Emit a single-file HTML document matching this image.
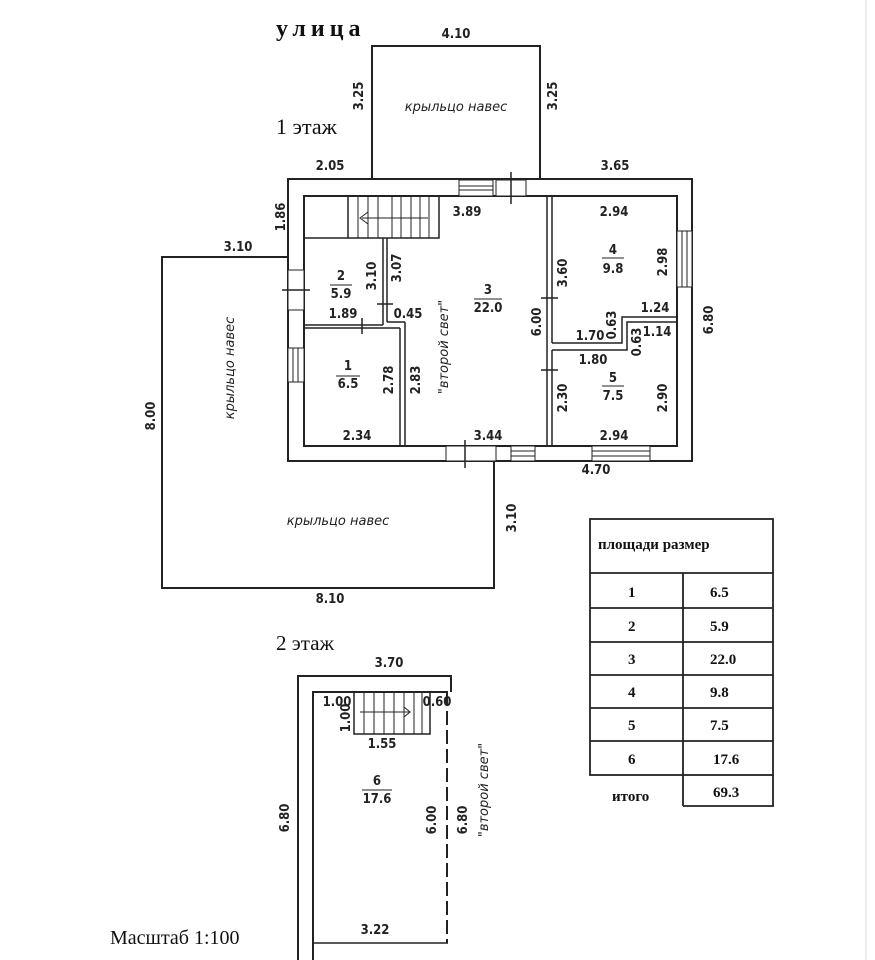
<!DOCTYPE html>
<html><head><meta charset="utf-8"><style>
html,body{margin:0;padding:0;background:#fff;width:875px;height:960px;overflow:hidden}
svg{display:block}
.d{font-family:"DejaVu Sans Condensed","DejaVu Sans",sans-serif;font-size:13px;font-weight:bold;fill:#222}
.s{font-family:"Liberation Serif",serif;fill:#111}
.i{font-family:"DejaVu Sans",sans-serif;font-style:italic;font-size:13px;fill:#222}
</style></head><body>
<svg width="875" height="960" viewBox="0 0 875 960" xmlns="http://www.w3.org/2000/svg">
<rect x="0" y="0" width="875" height="960" fill="#fff"/>
<line x1="866" y1="0" x2="866" y2="960" stroke="#ddd" stroke-width="1"/>
<g fill="none" stroke="#222" stroke-width="2">
<polyline points="372,178 372,46 540,46 540,178"/>
<polyline points="288,257 162,257 162,588 494,588 494,461"/>
<rect x="288" y="179" width="404" height="282"/>
<rect x="304" y="196" width="373" height="250"/>
<rect x="348" y="196" width="91" height="42" stroke-width="1.5"/>
<line x1="304" y1="238" x2="348" y2="238" stroke-width="1.5"/>
<line x1="383" y1="238" x2="383" y2="325" stroke-width="1.5"/>
<line x1="387" y1="238" x2="387" y2="322" stroke-width="1.5"/>
<line x1="304" y1="325" x2="383" y2="325" stroke-width="1.5"/>
<line x1="304" y1="328" x2="400" y2="328" stroke-width="1.5"/>
<line x1="387" y1="322" x2="405" y2="322" stroke-width="1.5"/>
<line x1="400" y1="328" x2="400" y2="446" stroke-width="1.5"/>
<line x1="405" y1="322" x2="405" y2="446" stroke-width="1.5"/>
<line x1="547" y1="196" x2="547" y2="446" stroke-width="1.5"/>
<line x1="552" y1="196" x2="552" y2="343" stroke-width="1.5"/>
<line x1="552" y1="350" x2="552" y2="446" stroke-width="1.5"/>
<polyline points="552,343 622,343 622,317 677,317" stroke-width="1.5"/>
<polyline points="552,350 627,350 627,322 677,322" stroke-width="1.5"/>
<polyline points="298,960 298,676 451,676 451,692"/>
<polyline points="313,960 313,692 448,692"/>
<line x1="313" y1="943" x2="448" y2="943" stroke-width="1.5"/>
<line x1="447" y1="692" x2="447" y2="943" stroke-width="2" stroke-dasharray="14,5"/>
<rect x="354" y="692" width="76" height="42" stroke-width="1.5"/>
<rect x="590" y="519" width="183" height="256" stroke-width="1.8"/>
<line x1="683" y1="573" x2="683" y2="806" stroke-width="1.8"/>
<polyline points="683,806 773,806 773,775" stroke-width="1.8"/>
<g stroke-width="1.8"><line x1="590" y1="573" x2="773" y2="573"/><line x1="590" y1="608" x2="773" y2="608"/><line x1="590" y1="642" x2="773" y2="642"/><line x1="590" y1="675" x2="773" y2="675"/><line x1="590" y1="708" x2="773" y2="708"/><line x1="590" y1="741" x2="773" y2="741"/></g>
</g>
<g stroke="#222" stroke-width="1">
<line x1="358" y1="196" x2="358" y2="238"/><line x1="368" y1="196" x2="368" y2="238"/><line x1="378" y1="196" x2="378" y2="238"/><line x1="392" y1="196" x2="392" y2="238"/><line x1="401" y1="196" x2="401" y2="238"/><line x1="411" y1="196" x2="411" y2="238"/><line x1="420" y1="196" x2="420" y2="238"/><line x1="429" y1="196" x2="429" y2="238"/>
<line x1="362" y1="218" x2="428" y2="218"/><polyline points="368,212 360,218 368,224" fill="none"/>
<line x1="364" y1="692" x2="364" y2="734"/><line x1="374" y1="692" x2="374" y2="734"/><line x1="384" y1="692" x2="384" y2="734"/><line x1="394" y1="692" x2="394" y2="734"/><line x1="404" y1="692" x2="404" y2="734"/><line x1="414" y1="692" x2="414" y2="734"/><line x1="422" y1="692" x2="422" y2="734"/>
<line x1="360" y1="712" x2="410" y2="712"/><polyline points="404,707 410,712 404,717" fill="none"/>
<rect x="459" y="180" width="34" height="16" fill="#fff"/><line x1="459" y1="186" x2="493" y2="186"/><line x1="459" y1="190" x2="493" y2="190"/>
<rect x="677" y="231" width="15" height="56" fill="#fff"/><line x1="682" y1="231" x2="682" y2="287"/><line x1="687" y1="231" x2="687" y2="287"/>
<rect x="288" y="348" width="16" height="34" fill="#fff"/><line x1="293" y1="348" x2="293" y2="382"/><line x1="298" y1="348" x2="298" y2="382"/>
<rect x="511" y="446" width="24" height="15" fill="#fff"/><line x1="511" y1="451" x2="535" y2="451"/><line x1="511" y1="456" x2="535" y2="456"/>
<rect x="592" y="446" width="58" height="15" fill="#fff"/><line x1="592" y1="451" x2="650" y2="451"/><line x1="592" y1="456" x2="650" y2="456"/>
<rect x="496" y="180" width="30" height="16" fill="#fff"/><line x1="511" y1="172" x2="511" y2="204" stroke-width="1.5"/>
<rect x="288" y="270" width="16" height="40" fill="#fff"/><line x1="282" y1="290" x2="310" y2="290" stroke-width="1.5"/>
<rect x="446" y="446" width="50" height="15" fill="#fff"/><line x1="465" y1="440" x2="465" y2="468" stroke-width="1.5"/>
<line x1="377" y1="304" x2="393" y2="304" stroke-width="1.5"/><line x1="362" y1="318" x2="362" y2="334" stroke-width="1.5"/>
<line x1="541" y1="298" x2="558" y2="298" stroke-width="1.5"/><line x1="541" y1="370" x2="558" y2="370" stroke-width="1.5"/>
<line x1="330" y1="285" x2="352" y2="285"/><line x1="474" y1="299" x2="502" y2="299"/><line x1="602" y1="258" x2="624" y2="258"/><line x1="602" y1="386" x2="624" y2="386"/><line x1="336" y1="376" x2="360" y2="376"/><line x1="362" y1="790" x2="392" y2="790"/>
</g>
<g class="d" text-anchor="middle">
<text x="456" y="38">4.10</text><text x="330" y="170">2.05</text><text x="615" y="170">3.65</text>
<text x="467" y="216">3.89</text><text x="614" y="216">2.94</text>
<text x="238" y="251">3.10</text>
<text x="341" y="280">2</text><text x="341" y="298">5.9</text>
<text x="488" y="294">3</text><text x="488" y="312">22.0</text>
<text x="613" y="254">4</text><text x="613" y="273">9.8</text>
<text x="343" y="318">1.89</text><text x="408" y="318">0.45</text>
<text x="655" y="312">1.24</text><text x="590" y="340">1.70</text><text x="657" y="336">1.14</text>
<text x="593" y="364">1.80</text>
<text x="613" y="382">5</text><text x="613" y="400">7.5</text>
<text x="348" y="370">1</text><text x="348" y="388">6.5</text>
<text x="357" y="440">2.34</text><text x="488" y="440">3.44</text><text x="614" y="440">2.94</text>
<text x="596" y="474">4.70</text><text x="330" y="603">8.10</text>
<text x="389" y="667">3.70</text>
<text x="337" y="706">1.00</text><text x="437" y="706">0.60</text><text x="382" y="748">1.55</text>
<text x="377" y="785">6</text><text x="377" y="803">17.6</text>
<text x="375" y="934">3.22</text>
</g>
<g class="d" text-anchor="middle">
<text transform="translate(363,96) rotate(-90)">3.25</text>
<text transform="translate(557,96) rotate(-90)">3.25</text>
<text transform="translate(285,217) rotate(-90)">1.86</text>
<text transform="translate(376,276) rotate(-90)">3.10</text>
<text transform="translate(401,268) rotate(-90)">3.07</text>
<text transform="translate(567,273) rotate(-90)">3.60</text>
<text transform="translate(667,262) rotate(-90)">2.98</text>
<text transform="translate(713,320) rotate(-90)">6.80</text>
<text transform="translate(541,322) rotate(-90)">6.00</text>
<text transform="translate(616,325) rotate(-90)">0.63</text>
<text transform="translate(641,342) rotate(-90)">0.63</text>
<text transform="translate(393,380) rotate(-90)">2.78</text>
<text transform="translate(420,380) rotate(-90)">2.83</text>
<text transform="translate(567,398) rotate(-90)">2.30</text>
<text transform="translate(667,398) rotate(-90)">2.90</text>
<text transform="translate(155,416) rotate(-90)">8.00</text>
<text transform="translate(516,518) rotate(-90)">3.10</text>
<text transform="translate(350,718) rotate(-90)">1.00</text>
<text transform="translate(289,818) rotate(-90)">6.80</text>
<text transform="translate(436,820) rotate(-90)">6.00</text>
<text transform="translate(467,820) rotate(-90)">6.80</text>
</g>
<g class="i" text-anchor="middle">
<text x="456" y="111">крыльцо навес</text>
<text x="338" y="525">крыльцо навес</text>
<text transform="translate(234,368) rotate(-90)">крыльцо навес</text>
<text transform="translate(448,347) rotate(-90)">"второй свет"</text>
<text transform="translate(488,790) rotate(-90)">"второй свет"</text>
</g>
<g class="s">
<text x="276" y="36" font-size="24" font-weight="bold" letter-spacing="5">улица</text>
<text x="276" y="134" font-size="22">1 этаж</text>
<text x="276" y="650" font-size="21">2 этаж</text>
<text x="110" y="944" font-size="20">Масштаб 1:100</text>
<g font-size="15" font-weight="bold">
<text x="598" y="549">площади размер</text>
<text x="628" y="597">1</text><text x="710" y="597">6.5</text>
<text x="628" y="631">2</text><text x="710" y="631">5.9</text>
<text x="628" y="664">3</text><text x="710" y="664">22.0</text>
<text x="628" y="697">4</text><text x="710" y="697">9.8</text>
<text x="628" y="730">5</text><text x="710" y="730">7.5</text>
<text x="628" y="764">6</text><text x="713" y="764">17.6</text>
<text x="612" y="801">итого</text><text x="713" y="797">69.3</text>
</g></g>
</svg>
</body></html>
